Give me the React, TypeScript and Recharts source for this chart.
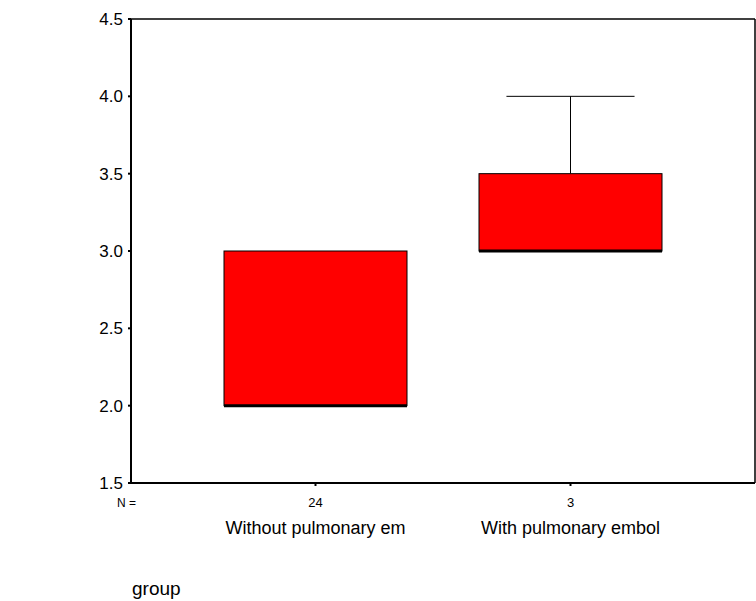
import React from "react";
import { ComposedChart, Bar, XAxis, YAxis, Label } from "recharts";

const groups = ["Without pulmonary em", "With pulmonary embol"];
const counts = [24, 3];
const lowWhisker = [2.0, 3.0];
const q1 = [2.0, 3.0];
const median = [2.0, 3.0];
const q3 = [3.0, 3.5];
const highWhisker = [3.0, 4.0];
const yTicks = [1.5, 2.0, 2.5, 3.0, 3.5, 4.0, 4.5];

const data = groups.map((g, i) => ({
    group: g,
    n: counts[i],
    box: [q1[i], q3[i]],
    upper: [q3[i], highWhisker[i]],
    lower: [lowWhisker[i], q1[i]],
    median: median[i],
}));

const FONT = "'Liberation Sans', Arial, sans-serif";

function BoxShape(props: any) {
    const { x, y, width, height, payload } = props;
    const [lo, hi] = payload.box;
    const my = hi === lo ? y : y + (height * (hi - payload.median)) / (hi - lo);
    return (
        <g>
            <rect x={x} y={y} width={width} height={height} fill="#ff0000" stroke="#000" strokeWidth={1} />
            <line x1={x} x2={x + width} y1={my} y2={my} stroke="#000" strokeWidth={3} />
        </g>
    );
}

function WhiskerShape(props: any) {
    const { x, y, width, height, top } = props;
    if (!height || height < 1) return null;
    const cx = x + width / 2;
    const capY = top ? y : y + height;
    const half = width * 0.35;
    return (
        <g>
            <line x1={cx} x2={cx} y1={y} y2={y + height} stroke="#000" strokeWidth={1} />
            <line x1={cx - half} x2={cx + half} y1={capY} y2={capY} stroke="#000" strokeWidth={1} />
        </g>
    );
}

function GroupTick(props: any) {
    const { x, y, payload, index } = props;
    return (
        <g>
            <text x={x} y={y + 19} textAnchor="middle" fontSize={13} fill="#000" fontFamily={FONT}>
                {counts[index]}
            </text>
            <text x={x} y={y + 46} textAnchor="middle" fontSize={18} fill="#000" fontFamily={FONT}>
                {payload.value}
            </text>
        </g>
    );
}

export default function App() {
    return (
        <div style={{ position: "absolute", left: 0, top: 0 }}>
            <ComposedChart
                width={756}
                height={601}
                data={data}
                margin={{ top: 18, right: 0, left: 71, bottom: 88 }}>
                <XAxis
                    dataKey="group"
                    xAxisId="bottom"
                    height={30}
                    padding={{ left: 57, right: 57 }}
                    stroke="#000"
                    strokeWidth={2}
                    tickSize={3}
                    tickMargin={2}
                    tick={<GroupTick />}
                    interval={0}>
                    <Label
                        content={(p: any) => (
                            <g>
                                <text x={p.viewBox.x - 14} y={p.viewBox.y + 24} fontSize={12} fill="#000" fontFamily={FONT}>
                                    N =
                                </text>
                                <text x={p.viewBox.x + 1} y={p.viewBox.y + 112} fontSize={19} fill="#000" fontFamily={FONT}>
                                    group
                                </text>
                            </g>
                        )}
                    />
                </XAxis>
                <XAxis dataKey="group" xAxisId="w" hide padding={{ left: 57, right: 57 }} />
                <XAxis dataKey="group" xAxisId="l" hide padding={{ left: 57, right: 57 }} />
                <XAxis
                    dataKey="group"
                    xAxisId="top"
                    orientation="top"
                    height={1}
                    tick={false}
                    tickLine={false}
                    stroke="#000"
                    strokeWidth={1.5}
                    padding={{ left: 57, right: 57 }}
                />
                <YAxis
                    domain={[1.5, 4.5]}
                    ticks={yTicks}
                    allowDataOverflow
                    width={60}
                    stroke="#000"
                    strokeWidth={2}
                    tickSize={3}
                    tickMargin={5}
                    tickFormatter={(v: number) => v.toFixed(1)}
                    tick={{ fontSize: 17, fill: "#000", fontFamily: FONT }}
                />
                <YAxis
                    yAxisId="right"
                    orientation="right"
                    domain={[1.5, 4.5]}
                    width={1}
                    tick={false}
                    tickLine={false}
                    stroke="#000"
                    strokeWidth={1.5}
                />
                <Bar xAxisId="w" dataKey="upper" barSize={183} isAnimationActive={false} shape={(p: any) => <WhiskerShape {...p} top />} />
                <Bar xAxisId="l" dataKey="lower" barSize={183} isAnimationActive={false} shape={(p: any) => <WhiskerShape {...p} />} />
                <Bar xAxisId="bottom" dataKey="box" barSize={183} isAnimationActive={false} shape={<BoxShape />} />
            </ComposedChart>
        </div>
    );
}
